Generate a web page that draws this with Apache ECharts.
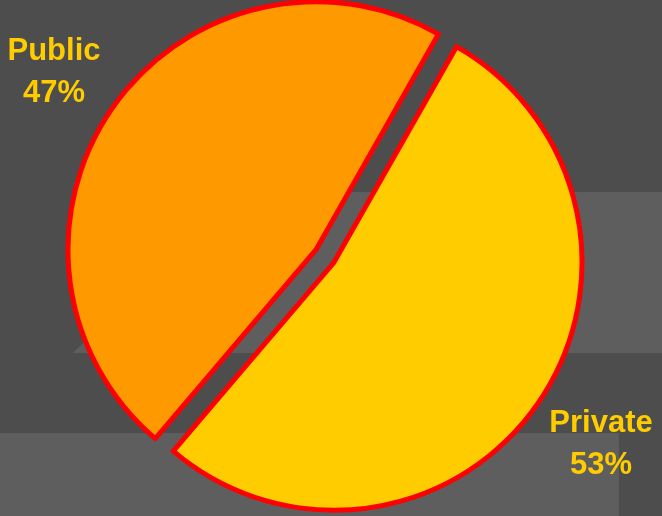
<!DOCTYPE html>
<html>
<head>
<meta charset="utf-8">
<script src="https://cdn.jsdelivr.net/npm/echarts@6/dist/echarts.min.js"></script>
<style>
html,body{margin:0;padding:0;background:#4d4d4d;}
#c{width:662px;height:516px;}
</style>
</head>
<body>
<div id="c"></div>
<script>
var categories = ['Private', 'Public'];
var values = [53, 47];
var colors = ['#FFCC00', '#FF9900'];

var labelPos = [[601, 444], [54, 72]];

var chart = echarts.init(document.getElementById('c'), null, {renderer: 'canvas'});
var data = categories.map(function (c, i) {
  return {name: c, value: values[i], selected: true, itemStyle: {color: colors[i]}};
});
var total = values.reduce(function (a, b) { return a + b; }, 0);

var labels = categories.map(function (c, i) {
  return {
    type: 'text', z: 10, silent: true,
    x: labelPos[i][0], y: labelPos[i][1],
    style: {
      text: c + '\n' + Math.round(values[i] / total * 100) + '%',
      fill: '#FFCC00',
      font: 'bold 31px "Liberation Sans", Arial, sans-serif',
      lineHeight: 42,
      align: 'center',
      verticalAlign: 'middle'
    }
  };
});

chart.setOption({
  animation: false,
  backgroundColor: '#4d4d4d',
  graphic: [
    {type: 'polygon', z: -10, silent: true,
     shape: {points: [[73, 353], [233, 192], [662, 192], [662, 353]]},
     style: {fill: '#5e5e5e'}},
    {type: 'rect', z: -10, silent: true,
     shape: {x: 0, y: 433, width: 619, height: 83},
     style: {fill: '#5e5e5e'}}
  ].concat(labels),
  series: [{
    type: 'pie',
    center: [325, 256],
    radius: [0, 248],
    startAngle: 60.4,
    clockwise: true,
    selectedMode: 'multiple',
    selectedOffset: 11,
    avoidLabelOverlap: false,
    emphasis: {disabled: true},
    itemStyle: {borderColor: '#FF0000', borderWidth: 5, borderJoin: 'round'},
    label: {show: false},
    labelLine: {show: false},
    data: data
  }]
});
</script>
</body>
</html>
